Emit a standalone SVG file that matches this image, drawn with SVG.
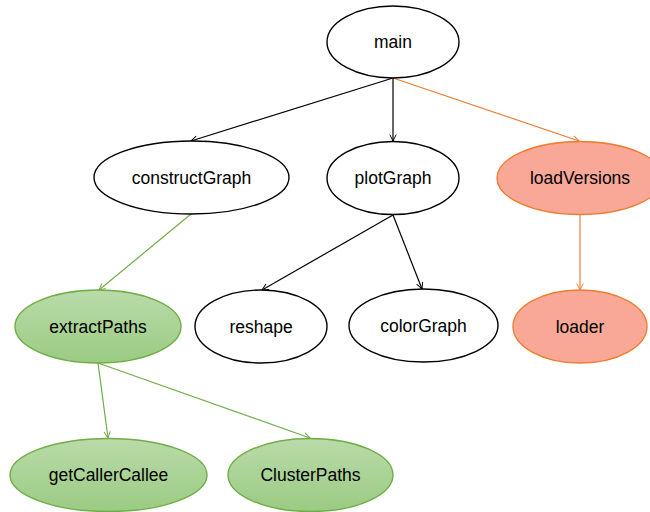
<svg xmlns="http://www.w3.org/2000/svg" width="650" height="512" viewBox="0 0 650 512">
<style>
.n{stroke-width:1.4}
.w{fill:#fff;stroke:#000}
.g{fill:url(#gg);stroke:#70ad47}
.o{fill:#f9a897;stroke:#ed7d31}
text{font-family:"Liberation Sans",Arial,sans-serif;font-size:17.5px;fill:#000;text-anchor:middle}
.e{fill:none;stroke-width:1.2}
.k{stroke:#000}
.eg{stroke:#70ad47}
.eo{stroke:#ed7d31}
</style>
<defs>
<linearGradient id="gg" x1="0" y1="0" x2="0" y2="1">
<stop offset="0" stop-color="#b9dba9"/>
<stop offset="1" stop-color="#9bcb83"/>
</linearGradient>
<marker id="ak" viewBox="0 0 10 10" refX="9" refY="5" markerWidth="8" markerHeight="8" orient="auto" markerUnits="userSpaceOnUse"><path d="M1,1 L9,5 L1,9" fill="none" stroke="#000" stroke-width="1.2"/></marker>
<marker id="ag" viewBox="0 0 10 10" refX="9" refY="5" markerWidth="8" markerHeight="8" orient="auto" markerUnits="userSpaceOnUse"><path d="M1,1 L9,5 L1,9" fill="none" stroke="#70ad47" stroke-width="1.2"/></marker>
<marker id="ao" viewBox="0 0 10 10" refX="9" refY="5" markerWidth="8" markerHeight="8" orient="auto" markerUnits="userSpaceOnUse"><path d="M1,1 L9,5 L1,9" fill="none" stroke="#ed7d31" stroke-width="1.2"/></marker>
</defs>
<g id="connectors">
<line class="e k" x1="393" y1="78" x2="191" y2="141" marker-end="url(#ak)"/>
<line class="e k" x1="393" y1="78" x2="393" y2="141" marker-end="url(#ak)"/>
<line class="e eo" x1="393" y1="78" x2="579" y2="141" marker-end="url(#ao)"/>
<line class="e eg" x1="191" y1="214" x2="99" y2="290" marker-end="url(#ag)"/>
<line class="e k" x1="393" y1="215" x2="262" y2="290" marker-end="url(#ak)"/>
<line class="e k" x1="393" y1="215" x2="422" y2="289" marker-end="url(#ak)"/>
<line class="e eo" x1="580" y1="214" x2="580" y2="290" marker-end="url(#ao)"/>
<line class="e eg" x1="98" y1="363" x2="108" y2="438" marker-end="url(#ag)"/>
<line class="e eg" x1="98" y1="363" x2="310" y2="438" marker-end="url(#ag)"/>
</g>
<g id="main"><ellipse class="n w" cx="393" cy="42" rx="66" ry="36"/><text x="393" y="48">main</text></g>
<g id="constructGraph"><ellipse class="n w" cx="191.5" cy="177.5" rx="97.5" ry="36.5"/><text x="191.5" y="183.5">constructGraph</text></g>
<g id="plotGraph"><ellipse class="n w" cx="393" cy="178" rx="66" ry="36.5"/><text x="393" y="184">plotGraph</text></g>
<g id="loadVersions"><ellipse class="n o" cx="580" cy="178" rx="83" ry="36.5"/><text x="580" y="184">loadVersions</text></g>
<g id="extractPaths"><ellipse class="n g" cx="98" cy="326.5" rx="83" ry="36.5"/><text x="98" y="332.5">extractPaths</text></g>
<g id="reshape"><ellipse class="n w" cx="261" cy="326.5" rx="66" ry="36.5"/><text x="261" y="332.5">reshape</text></g>
<g id="colorGraph"><ellipse class="n w" cx="423.5" cy="325.5" rx="74.5" ry="36.5"/><text x="423.5" y="331.5">colorGraph</text></g>
<g id="loader"><ellipse class="n o" cx="580" cy="326.5" rx="67" ry="36.5"/><text x="580" y="332.5">loader</text></g>
<g id="getCallerCallee"><ellipse class="n g" cx="108.5" cy="475" rx="98.5" ry="36.5"/><text x="108.5" y="481">getCallerCallee</text></g>
<g id="ClusterPaths"><ellipse class="n g" cx="310.5" cy="475" rx="82.5" ry="36.5"/><text x="310.5" y="481">ClusterPaths</text></g>
</svg>
